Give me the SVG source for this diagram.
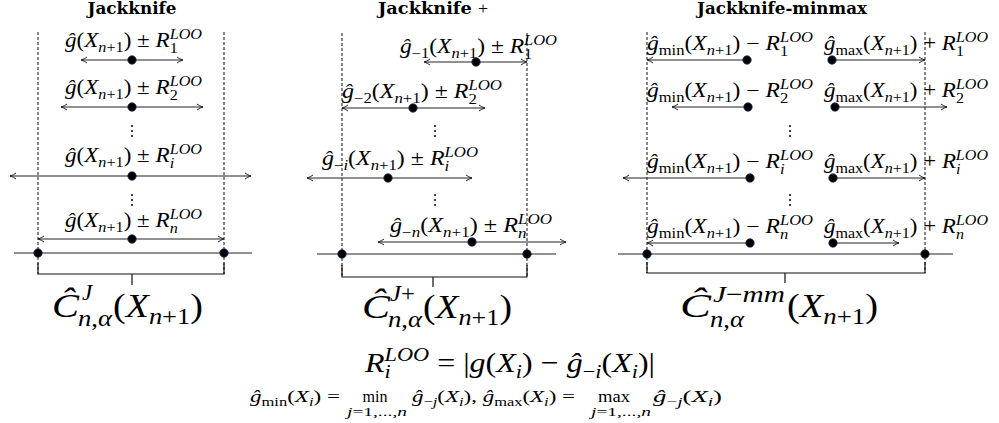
<svg xmlns="http://www.w3.org/2000/svg" width="999" height="423" viewBox="0 0 999 423">
<style>
text{font-family:"Liberation Serif","Times New Roman",serif;fill:#000}
.tt{font-family:"DejaVu Serif","Liberation Serif",serif;font-weight:bold;font-size:16px}
.r{font-size:20px}
.s{font-size:14px}
.it{font-style:italic}
.big{font-size:33px}
.bs{font-size:23px}
.f1{font-size:28px}
.f1s{font-size:19.5px}
.f2{font-size:17.5px}
.f2s{font-size:12.5px}
.ar{stroke:#222;stroke-width:1;fill:none}
.two{marker-start:url(#ah);marker-end:url(#ah)}
.one{marker-end:url(#ah)}
.dash{stroke:#111;stroke-width:1;stroke-dasharray:3 2;fill:none}
.axis{stroke:#222;stroke-width:1.2;fill:none}
.br{stroke:#111;stroke-width:1.2;fill:none}
.pt{fill:#000;stroke:#1d2f5a;stroke-width:0.8}
.vd{fill:#000}
</style>
<defs>
<marker id="ah" viewBox="0 0 8 8" refX="7.5" refY="4" markerWidth="8" markerHeight="8" markerUnits="userSpaceOnUse" orient="auto-start-reverse"><path d="M1.5,1 Q4,3 7.5,4 Q4,5 1.5,7" fill="none" stroke="#222" stroke-width="1"/></marker>
</defs>

<!-- ============ Panel 1: Jackknife ============ -->
<g id="panel-jackknife">
<text class="tt" x="132" y="14" text-anchor="middle" textLength="89" lengthAdjust="spacingAndGlyphs">Jackknife</text>
<line class="dash" x1="38" y1="32" x2="38" y2="274"/>
<line class="dash" x1="224" y1="32" x2="224" y2="274"/>
<g id="j-row1">
<text class="r" x="65" y="47" textLength="137" lengthAdjust="spacingAndGlyphs"><tspan class="it">ĝ</tspan>(<tspan class="it">X</tspan><tspan class="s" dy="4.5"><tspan class="it">n</tspan>+1</tspan><tspan dy="-4.5">) ± </tspan><tspan class="it">R</tspan><tspan class="s" dy="5.5">1</tspan><tspan class="s it" dx="-7" dy="-13.5">LOO</tspan></text>
</g>
<g id="j-row2">
<text class="r" x="65" y="94" textLength="137" lengthAdjust="spacingAndGlyphs"><tspan class="it">ĝ</tspan>(<tspan class="it">X</tspan><tspan class="s" dy="4.5"><tspan class="it">n</tspan>+1</tspan><tspan dy="-4.5">) ± </tspan><tspan class="it">R</tspan><tspan class="s" dy="5.5">2</tspan><tspan class="s it" dx="-7" dy="-13.5">LOO</tspan></text>
</g>
<g id="j-rowi">
<text class="r" x="65" y="162" textLength="137" lengthAdjust="spacingAndGlyphs"><tspan class="it">ĝ</tspan>(<tspan class="it">X</tspan><tspan class="s" dy="4.5"><tspan class="it">n</tspan>+1</tspan><tspan dy="-4.5">) ± </tspan><tspan class="it">R</tspan><tspan class="s it" dy="5.5">i</tspan><tspan class="s it" dx="-3.9" dy="-13.5">LOO</tspan></text>
</g>
<g id="j-rown">
<text class="r" x="65" y="227" textLength="137" lengthAdjust="spacingAndGlyphs"><tspan class="it">ĝ</tspan>(<tspan class="it">X</tspan><tspan class="s" dy="4.5"><tspan class="it">n</tspan>+1</tspan><tspan dy="-4.5">) ± </tspan><tspan class="it">R</tspan><tspan class="s it" dy="5.5">n</tspan><tspan class="s it" dx="-7" dy="-13.5">LOO</tspan></text>
</g>
<g id="j-vdots" class="vd">
<circle cx="132" cy="126" r="1"/><circle cx="132" cy="131" r="1"/><circle cx="132" cy="136" r="1"/>
<circle cx="132" cy="195" r="1"/><circle cx="132" cy="200" r="1"/><circle cx="132" cy="205" r="1"/>
</g>
<g id="j-result">
<text class="big it" x="52" y="317" textLength="27" lengthAdjust="spacingAndGlyphs">Ĉ</text>
<text class="bs it" x="82" y="300">J</text>
<text class="bs" x="78" y="326" textLength="34" lengthAdjust="spacingAndGlyphs"><tspan class="it">n</tspan>,<tspan class="it">α</tspan></text>
<text class="big" x="113" y="317" textLength="90" lengthAdjust="spacingAndGlyphs">(<tspan class="it">X</tspan><tspan class="bs" dy="7"><tspan class="it">n</tspan>+1</tspan><tspan dy="-7">)</tspan></text>
</g>
</g>

<!-- ============ Panel 2: Jackknife + ============ -->
<g id="panel-jackknife-plus">
<text class="tt" x="433" y="14" text-anchor="middle" textLength="110" lengthAdjust="spacingAndGlyphs">Jackknife <tspan font-weight="normal" font-family="Liberation Serif" font-size="16px">+</tspan></text>
<line class="dash" x1="342" y1="33" x2="342" y2="277"/>
<line class="dash" x1="527" y1="33" x2="527" y2="277"/>
<g id="jp-row1">
<text class="r" x="400" y="53" textLength="157" lengthAdjust="spacingAndGlyphs"><tspan class="it">ĝ</tspan><tspan class="s" dy="4.5">−1</tspan><tspan dy="-4.5">(</tspan><tspan class="it">X</tspan><tspan class="s" dy="4.5"><tspan class="it">n</tspan>+1</tspan><tspan dy="-4.5">) ± </tspan><tspan class="it">R</tspan><tspan class="s" dy="5.5">1</tspan><tspan class="s it" dx="-7" dy="-13.5">LOO</tspan></text>
</g>
<g id="jp-row2">
<text class="r" x="342" y="98" textLength="160" lengthAdjust="spacingAndGlyphs"><tspan class="it">ĝ</tspan><tspan class="s" dy="4.5">−2</tspan><tspan dy="-4.5">(</tspan><tspan class="it">X</tspan><tspan class="s" dy="4.5"><tspan class="it">n</tspan>+1</tspan><tspan dy="-4.5">) ± </tspan><tspan class="it">R</tspan><tspan class="s" dy="5.5">2</tspan><tspan class="s it" dx="-7" dy="-13.5">LOO</tspan></text>
</g>
<g id="jp-rowi">
<text class="r" x="322" y="165" textLength="156" lengthAdjust="spacingAndGlyphs"><tspan class="it">ĝ</tspan><tspan class="s" dy="4.5">−<tspan class="it">i</tspan></tspan><tspan dy="-4.5">(</tspan><tspan class="it">X</tspan><tspan class="s" dy="4.5"><tspan class="it">n</tspan>+1</tspan><tspan dy="-4.5">) ± </tspan><tspan class="it">R</tspan><tspan class="s it" dy="5.5">i</tspan><tspan class="s it" dx="-3.9" dy="-13.5">LOO</tspan></text>
</g>
<g id="jp-rown">
<text class="r" x="390" y="232" textLength="162" lengthAdjust="spacingAndGlyphs"><tspan class="it">ĝ</tspan><tspan class="s" dy="4.5">−<tspan class="it">n</tspan></tspan><tspan dy="-4.5">(</tspan><tspan class="it">X</tspan><tspan class="s" dy="4.5"><tspan class="it">n</tspan>+1</tspan><tspan dy="-4.5">) ± </tspan><tspan class="it">R</tspan><tspan class="s it" dy="5.5">n</tspan><tspan class="s it" dx="-7" dy="-13.5">LOO</tspan></text>
</g>
<g id="jp-vdots" class="vd">
<circle cx="435" cy="126" r="1"/><circle cx="435" cy="131" r="1"/><circle cx="435" cy="136" r="1"/>
<circle cx="435" cy="195" r="1"/><circle cx="435" cy="200" r="1"/><circle cx="435" cy="205" r="1"/>
</g>
<g id="jp-result">
<text class="big it" x="362" y="318" textLength="28" lengthAdjust="spacingAndGlyphs">Ĉ</text>
<text class="bs" x="390" y="301" textLength="25" lengthAdjust="spacingAndGlyphs"><tspan class="it">J</tspan>+</text>
<text class="bs" x="388" y="327" textLength="34" lengthAdjust="spacingAndGlyphs"><tspan class="it">n</tspan>,<tspan class="it">α</tspan></text>
<text class="big" x="423" y="318" textLength="89" lengthAdjust="spacingAndGlyphs">(<tspan class="it">X</tspan><tspan class="bs" dy="7"><tspan class="it">n</tspan>+1</tspan><tspan dy="-7">)</tspan></text>
</g>
</g>

<!-- ============ Panel 3: Jackknife-minmax ============ -->
<g id="panel-jackknife-minmax">
<text class="tt" x="782" y="14" text-anchor="middle" textLength="170" lengthAdjust="spacingAndGlyphs">Jackknife-minmax</text>
<line class="dash" x1="647" y1="32" x2="647" y2="273"/>
<line class="dash" x1="925" y1="32" x2="925" y2="273"/>
<g id="jm-row1">
<text class="r" x="647" y="50" textLength="166" lengthAdjust="spacingAndGlyphs"><tspan class="it">ĝ</tspan><tspan class="s" dy="4.5">min</tspan><tspan dy="-4.5">(</tspan><tspan class="it">X</tspan><tspan class="s" dy="4.5"><tspan class="it">n</tspan>+1</tspan><tspan dy="-4.5">) − </tspan><tspan class="it">R</tspan><tspan class="s" dy="5.5">1</tspan><tspan class="s it" dx="-7" dy="-13.5">LOO</tspan></text>
<text class="r" x="824" y="50" textLength="164" lengthAdjust="spacingAndGlyphs"><tspan class="it">ĝ</tspan><tspan class="s" dy="4.5">max</tspan><tspan dy="-4.5">(</tspan><tspan class="it">X</tspan><tspan class="s" dy="4.5"><tspan class="it">n</tspan>+1</tspan><tspan dy="-4.5">) + </tspan><tspan class="it">R</tspan><tspan class="s" dy="5.5">1</tspan><tspan class="s it" dx="-7" dy="-13.5">LOO</tspan></text>
</g>
<g id="jm-row2">
<text class="r" x="647" y="97" textLength="166" lengthAdjust="spacingAndGlyphs"><tspan class="it">ĝ</tspan><tspan class="s" dy="4.5">min</tspan><tspan dy="-4.5">(</tspan><tspan class="it">X</tspan><tspan class="s" dy="4.5"><tspan class="it">n</tspan>+1</tspan><tspan dy="-4.5">) − </tspan><tspan class="it">R</tspan><tspan class="s" dy="5.5">2</tspan><tspan class="s it" dx="-7" dy="-13.5">LOO</tspan></text>
<text class="r" x="824" y="97" textLength="164" lengthAdjust="spacingAndGlyphs"><tspan class="it">ĝ</tspan><tspan class="s" dy="4.5">max</tspan><tspan dy="-4.5">(</tspan><tspan class="it">X</tspan><tspan class="s" dy="4.5"><tspan class="it">n</tspan>+1</tspan><tspan dy="-4.5">) + </tspan><tspan class="it">R</tspan><tspan class="s" dy="5.5">2</tspan><tspan class="s it" dx="-7" dy="-13.5">LOO</tspan></text>
</g>
<g id="jm-rowi">
<text class="r" x="647" y="168" textLength="166" lengthAdjust="spacingAndGlyphs"><tspan class="it">ĝ</tspan><tspan class="s" dy="4.5">min</tspan><tspan dy="-4.5">(</tspan><tspan class="it">X</tspan><tspan class="s" dy="4.5"><tspan class="it">n</tspan>+1</tspan><tspan dy="-4.5">) − </tspan><tspan class="it">R</tspan><tspan class="s it" dy="5.5">i</tspan><tspan class="s it" dx="-3.9" dy="-13.5">LOO</tspan></text>
<text class="r" x="824" y="168" textLength="164" lengthAdjust="spacingAndGlyphs"><tspan class="it">ĝ</tspan><tspan class="s" dy="4.5">max</tspan><tspan dy="-4.5">(</tspan><tspan class="it">X</tspan><tspan class="s" dy="4.5"><tspan class="it">n</tspan>+1</tspan><tspan dy="-4.5">) + </tspan><tspan class="it">R</tspan><tspan class="s it" dy="5.5">i</tspan><tspan class="s it" dx="-3.9" dy="-13.5">LOO</tspan></text>
</g>
<g id="jm-rown">
<text class="r" x="647" y="233" textLength="166" lengthAdjust="spacingAndGlyphs"><tspan class="it">ĝ</tspan><tspan class="s" dy="4.5">min</tspan><tspan dy="-4.5">(</tspan><tspan class="it">X</tspan><tspan class="s" dy="4.5"><tspan class="it">n</tspan>+1</tspan><tspan dy="-4.5">) − </tspan><tspan class="it">R</tspan><tspan class="s it" dy="5.5">n</tspan><tspan class="s it" dx="-7" dy="-13.5">LOO</tspan></text>
<text class="r" x="824" y="233" textLength="164" lengthAdjust="spacingAndGlyphs"><tspan class="it">ĝ</tspan><tspan class="s" dy="4.5">max</tspan><tspan dy="-4.5">(</tspan><tspan class="it">X</tspan><tspan class="s" dy="4.5"><tspan class="it">n</tspan>+1</tspan><tspan dy="-4.5">) + </tspan><tspan class="it">R</tspan><tspan class="s it" dy="5.5">n</tspan><tspan class="s it" dx="-7" dy="-13.5">LOO</tspan></text>
</g>
<g id="jm-vdots" class="vd">
<circle cx="790" cy="126" r="1"/><circle cx="790" cy="131" r="1"/><circle cx="790" cy="136" r="1"/>
<circle cx="790" cy="195" r="1"/><circle cx="790" cy="200" r="1"/><circle cx="790" cy="205" r="1"/>
</g>
<g id="jm-result">
<text class="big it" x="680" y="317" textLength="31" lengthAdjust="spacingAndGlyphs">Ĉ</text>
<text class="bs" x="713" y="302" textLength="72" lengthAdjust="spacingAndGlyphs"><tspan class="it">J</tspan>−<tspan class="it">mm</tspan></text>
<text class="bs" x="710" y="327" textLength="34" lengthAdjust="spacingAndGlyphs"><tspan class="it">n</tspan>,<tspan class="it">α</tspan></text>
<text class="big" x="787" y="317" textLength="91" lengthAdjust="spacingAndGlyphs">(<tspan class="it">X</tspan><tspan class="bs" dy="7"><tspan class="it">n</tspan>+1</tspan><tspan dy="-7">)</tspan></text>
</g>
</g>

<!-- ============ Connectors (intervals, axes, brackets) ============ -->
<g id="connectors">
<line class="ar two" x1="81" y1="60" x2="183" y2="60"/>
<line class="ar two" x1="61" y1="107" x2="203" y2="107"/>
<line class="ar two" x1="10" y1="176" x2="251" y2="176"/>
<line class="ar two" x1="38" y1="239" x2="224" y2="239"/>
<line class="axis" x1="14" y1="253" x2="252" y2="253"/>
<path class="br" d="M38,263 V274 H224 V263 M132,274 V285"/>
<line class="ar two" x1="424" y1="62" x2="527" y2="62"/>
<line class="ar two" x1="342" y1="108" x2="485" y2="108"/>
<line class="ar two" x1="307" y1="178" x2="472" y2="178"/>
<line class="ar two" x1="378" y1="242" x2="566" y2="242"/>
<line class="axis" x1="317" y1="254" x2="556" y2="254"/>
<path class="br" d="M342,265 V277 H527 V265 M433,277 V287"/>
<line class="ar one" x1="747" y1="60" x2="647" y2="60"/>
<line class="ar one" x1="832" y1="60" x2="925" y2="60"/>
<line class="ar one" x1="748" y1="107" x2="672" y2="107"/>
<line class="ar one" x1="835" y1="107" x2="947" y2="107"/>
<line class="ar one" x1="750" y1="178" x2="623" y2="178"/>
<line class="ar one" x1="833" y1="178" x2="925" y2="178"/>
<line class="ar one" x1="750" y1="243" x2="647" y2="243"/>
<line class="ar one" x1="833" y1="243" x2="899" y2="243"/>
<line class="axis" x1="618" y1="254" x2="953" y2="254"/>
<path class="br" d="M647,262 V273 H925 V262 M785,273 V283"/>
</g>

<g id="points">
<circle class="pt" cx="132" cy="60" r="4.2"/>
<circle class="pt" cx="132" cy="107" r="4.2"/>
<circle class="pt" cx="132" cy="176" r="4.2"/>
<circle class="pt" cx="132" cy="239" r="4.2"/>
<circle class="pt" cx="38" cy="253" r="4.2"/>
<circle class="pt" cx="224" cy="253" r="4.2"/>
<circle class="pt" cx="476" cy="62" r="4.2"/>
<circle class="pt" cx="413" cy="108" r="4.2"/>
<circle class="pt" cx="388" cy="178" r="4.2"/>
<circle class="pt" cx="472" cy="242" r="4.2"/>
<circle class="pt" cx="342" cy="254" r="4.2"/>
<circle class="pt" cx="527" cy="254" r="4.2"/>
<circle class="pt" cx="747" cy="60" r="4.2"/>
<circle class="pt" cx="832" cy="60" r="4.2"/>
<circle class="pt" cx="748" cy="107" r="4.2"/>
<circle class="pt" cx="835" cy="107" r="4.2"/>
<circle class="pt" cx="750" cy="178" r="4.2"/>
<circle class="pt" cx="833" cy="178" r="4.2"/>
<circle class="pt" cx="750" cy="243" r="4.2"/>
<circle class="pt" cx="833" cy="243" r="4.2"/>
<circle class="pt" cx="647" cy="254" r="4.2"/>
<circle class="pt" cx="925" cy="254" r="4.2"/>
</g>

<g id="formula-loo">
<text class="f1" x="365" y="372" textLength="290" lengthAdjust="spacingAndGlyphs"><tspan class="it">R</tspan><tspan class="f1s it" dy="6">i</tspan><tspan class="f1s it" dx="-5.4" dy="-17.5">LOO</tspan><tspan dy="11.5"> = |</tspan><tspan class="it">g</tspan>(<tspan class="it">X</tspan><tspan class="f1s it" dy="6">i</tspan><tspan dy="-6">) − </tspan><tspan class="it">ĝ</tspan><tspan class="f1s" dy="6">−<tspan class="it">i</tspan></tspan><tspan dy="-6">(</tspan><tspan class="it">X</tspan><tspan class="f1s it" dy="6">i</tspan><tspan dy="-6">)|</tspan></text>
</g>
<g id="formula-minmax">
<text class="f2" x="250" y="402" textLength="90" lengthAdjust="spacingAndGlyphs"><tspan class="it">ĝ</tspan><tspan class="f2s" dy="3.5">min</tspan><tspan dy="-3.5">(</tspan><tspan class="it">X</tspan><tspan class="f2s it" dy="3.5">i</tspan><tspan dy="-3.5">) =</tspan></text>
<text class="f2" x="375" y="402" text-anchor="middle" textLength="25" lengthAdjust="spacingAndGlyphs">min</text>
<text class="f2s" x="377" y="416" text-anchor="middle" textLength="60" lengthAdjust="spacingAndGlyphs"><tspan class="it">j</tspan>=1,...,<tspan class="it">n</tspan></text>
<text class="f2" x="412" y="402" textLength="163" lengthAdjust="spacingAndGlyphs"><tspan class="it">ĝ</tspan><tspan class="f2s" dy="3.5">−<tspan class="it">j</tspan></tspan><tspan dy="-3.5">(</tspan><tspan class="it">X</tspan><tspan class="f2s it" dy="3.5">i</tspan><tspan dy="-3.5">), </tspan><tspan class="it">ĝ</tspan><tspan class="f2s" dy="3.5">max</tspan><tspan dy="-3.5">(</tspan><tspan class="it">X</tspan><tspan class="f2s it" dy="3.5">i</tspan><tspan dy="-3.5">) =</tspan></text>
<text class="f2" x="614" y="402" text-anchor="middle" textLength="32" lengthAdjust="spacingAndGlyphs">max</text>
<text class="f2s" x="621" y="416" text-anchor="middle" textLength="60" lengthAdjust="spacingAndGlyphs"><tspan class="it">j</tspan>=1,...,<tspan class="it">n</tspan></text>
<text class="f2" x="653" y="402" textLength="69" lengthAdjust="spacingAndGlyphs"><tspan class="it">ĝ</tspan><tspan class="f2s" dy="3.5">−<tspan class="it">j</tspan></tspan><tspan dy="-3.5">(</tspan><tspan class="it">X</tspan><tspan class="f2s it" dy="3.5">i</tspan><tspan dy="-3.5">)</tspan></text>
</g>
</svg>
